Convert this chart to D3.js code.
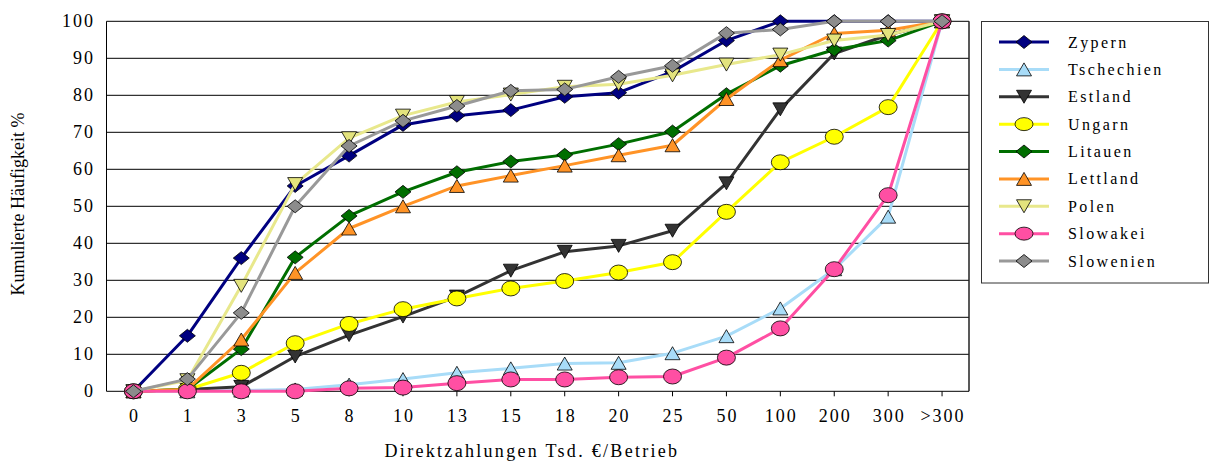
<!DOCTYPE html>
<html><head><meta charset="utf-8">
<script src="https://cdn.jsdelivr.net/npm/d3@7"></script>
<style>body{margin:0;background:#fff}svg{display:block}text{font-family:"Liberation Serif","Times New Roman",serif;fill:#000}</style>
</head><body><svg id="c" width="1210" height="462"></svg>
<script>
const categories = ["0","1","3","5","8","10","13","15","18","20","25","50","100","200","300",">300"];
const yTicks = [0,10,20,30,40,50,60,70,80,90,100];
const zypern     = [0, 15, 36, 55.5, 63.7, 72, 74.5, 76, 79.6, 80.7, 86.4, 94.8, 100, 100, 100, 100];
const tschechien = [0, 0, 0.2, 0.5, 1.8, 3.3, 5, 6.2, 7.5, 7.7, 10.3, 14.9, 22.4, 33, 47.2, 100];
const estland    = [0, 0.5, 1.2, 9.4, 15.2, 20.2, 25.6, 32.6, 37.7, 39.3, 43.4, 56.2, 76.2, 91.3, 96.3, 100];
const ungarn     = [0, 0.5, 5, 13, 18.2, 22.2, 25.1, 27.8, 29.8, 32.1, 34.9, 48.5, 61.9, 68.8, 76.8, 100];
const litauen    = [0, 0.5, 11.4, 36.2, 47.4, 53.9, 59.2, 62.1, 63.9, 66.8, 70.2, 80.3, 88, 92.3, 94.8, 100];
const lettland   = [0, 0.5, 14, 32, 44, 50, 55.5, 58.3, 61, 63.8, 66.5, 79, 89.5, 96.7, 97.6, 100];
const polen      = [0, 3, 28.5, 56, 68.4, 74.5, 78.2, 80.2, 82.3, 83, 85.4, 88.3, 91, 94.8, 96.3, 100];
const slowakei   = [0, 0, 0, 0, 0.8, 1, 2.2, 3.2, 3.2, 3.8, 4, 9.1, 17, 33, 53, 100];
const slowenien  = [0, 3.3, 21.2, 50, 66.3, 73.1, 77.1, 81.2, 81.6, 85, 88, 96.8, 97.8, 100, 100, 100];
const seriesNames = ["Zypern","Tschechien","Estland","Ungarn","Litauen","Lettland","Polen","Slowakei","Slowenien"];
const seriesValues = [zypern,tschechien,estland,ungarn,litauen,lettland,polen,slowakei,slowenien];
const lineColors = ["#000080","#a8dcf8","#333333","#ffff00","#006e00","#ff9326","#e8e88c","#ff4fa3","#999999"];
const fillColors = ["#000080","#a8dcf8","#333333","#ffff00","#006e00","#ff9326","#e3e37d","#ff4fa3","#8c8c8c"];
const shapes = ["diamond","tri","tridown","ellipse","diamond","tri","tridown","ellipse","diamond"];
const xTitle = "Direktzahlungen Tsd. €/Betrieb";
const yTitle = "Kumulierte Häufigkeit %";

const svg = d3.select("#c");
const L=106.5, R=969, T=21.3, B=391.3;
const x = d3.scaleBand().domain(categories).range([L,R]);
const cx = c => x(c) + x.bandwidth()/2;
const y = d3.scaleLinear().domain([0,100]).range([B,T]);

// gridlines
svg.append("g").selectAll("line").data(yTicks.filter(d=>d>0)).join("line")
  .attr("x1",L).attr("x2",R).attr("y1",d=>y(d)).attr("y2",d=>y(d))
  .attr("stroke","#000").attr("stroke-width",1);
// frame
svg.append("line").attr("x1",L).attr("x2",L).attr("y1",T).attr("y2",B).attr("stroke","#000");
svg.append("line").attr("x1",R).attr("x2",R).attr("y1",T).attr("y2",B).attr("stroke","#222").attr("stroke-width",1.5);
svg.append("line").attr("x1",L).attr("x2",R).attr("y1",B).attr("y2",B).attr("stroke","#000");
// x ticks
svg.append("g").selectAll("line").data(categories).join("line")
  .attr("x1",cx).attr("x2",cx).attr("y1",B).attr("y2",B+5).attr("stroke","#000");
// labels
svg.append("g").selectAll("text").data(yTicks).join("text")
  .attr("x",95).attr("y",d=>y(d)+6).attr("text-anchor","end")
  .style("font-size","18px").style("letter-spacing","2px").text(d=>d);
svg.append("g").selectAll("text").data(categories).join("text")
  .attr("x",d=>cx(d)+1).attr("y",422).attr("text-anchor","middle")
  .style("font-size","18px").style("letter-spacing","2px").text(d=>d);
svg.append("text").attr("x",532).attr("y",457).attr("text-anchor","middle")
  .style("font-size","18px").style("letter-spacing","2.3px").text(xTitle);
svg.append("text").attr("transform","translate(24,204) rotate(-90)").attr("text-anchor","middle")
  .style("font-size","18px").text(yTitle);

function shapePath(s, legend){
  if(s==="diamond") return "M0,-6.5L8,0L0,6.5L-8,0Z";
  if(s==="tri") return "M0,-6.5L7.5,6.5L-7.5,6.5Z";
  if(s==="tridown") return "M0,6.5L7.5,-6.5L-7.5,-6.5Z";
  const rx=9, ry= legend?6.5:7.5;
  return `M${-rx},0A${rx},${ry} 0 1,0 ${rx},0A${rx},${ry} 0 1,0 ${-rx},0Z`;
}

const line = d3.line().x((d,i)=>cx(categories[i])).y(d=>y(d));
seriesValues.forEach((vals,k)=>{
  const g = svg.append("g");
  g.append("path").attr("d",line(vals)).attr("fill","none")
    .attr("stroke",lineColors[k]).attr("stroke-width",3).attr("stroke-linejoin","round");
  g.selectAll("path.m").data(vals).join("path").attr("class","m")
    .attr("transform",(d,i)=>`translate(${cx(categories[i])},${y(d)})`)
    .attr("d",shapePath(shapes[k])).attr("fill",fillColors[k]).attr("stroke","#000").attr("stroke-width",0.8);
});

// legend
svg.append("rect").attr("x",981.5).attr("y",21.5).attr("width",227).attr("height",261.5)
  .attr("fill","#fff").attr("stroke","#333").attr("stroke-width",1);
const ly = d3.scaleLinear().domain([0,8]).range([42,261]);
seriesNames.forEach((n,k)=>{
  const g = svg.append("g").attr("transform",`translate(0,${ly(k)})`);
  g.append("line").attr("x1",999).attr("x2",1049).attr("y1",0).attr("y2",0)
    .attr("stroke",lineColors[k]).attr("stroke-width",3);
  g.append("path").attr("transform","translate(1024,0)").attr("d",shapePath(shapes[k],true))
    .attr("fill",fillColors[k]).attr("stroke","#000").attr("stroke-width",0.8);
  g.append("text").attr("x",1068).attr("y",5.5).style("font-size","16px")
    .style("letter-spacing","2.4px").text(n);
});
</script></body></html>
